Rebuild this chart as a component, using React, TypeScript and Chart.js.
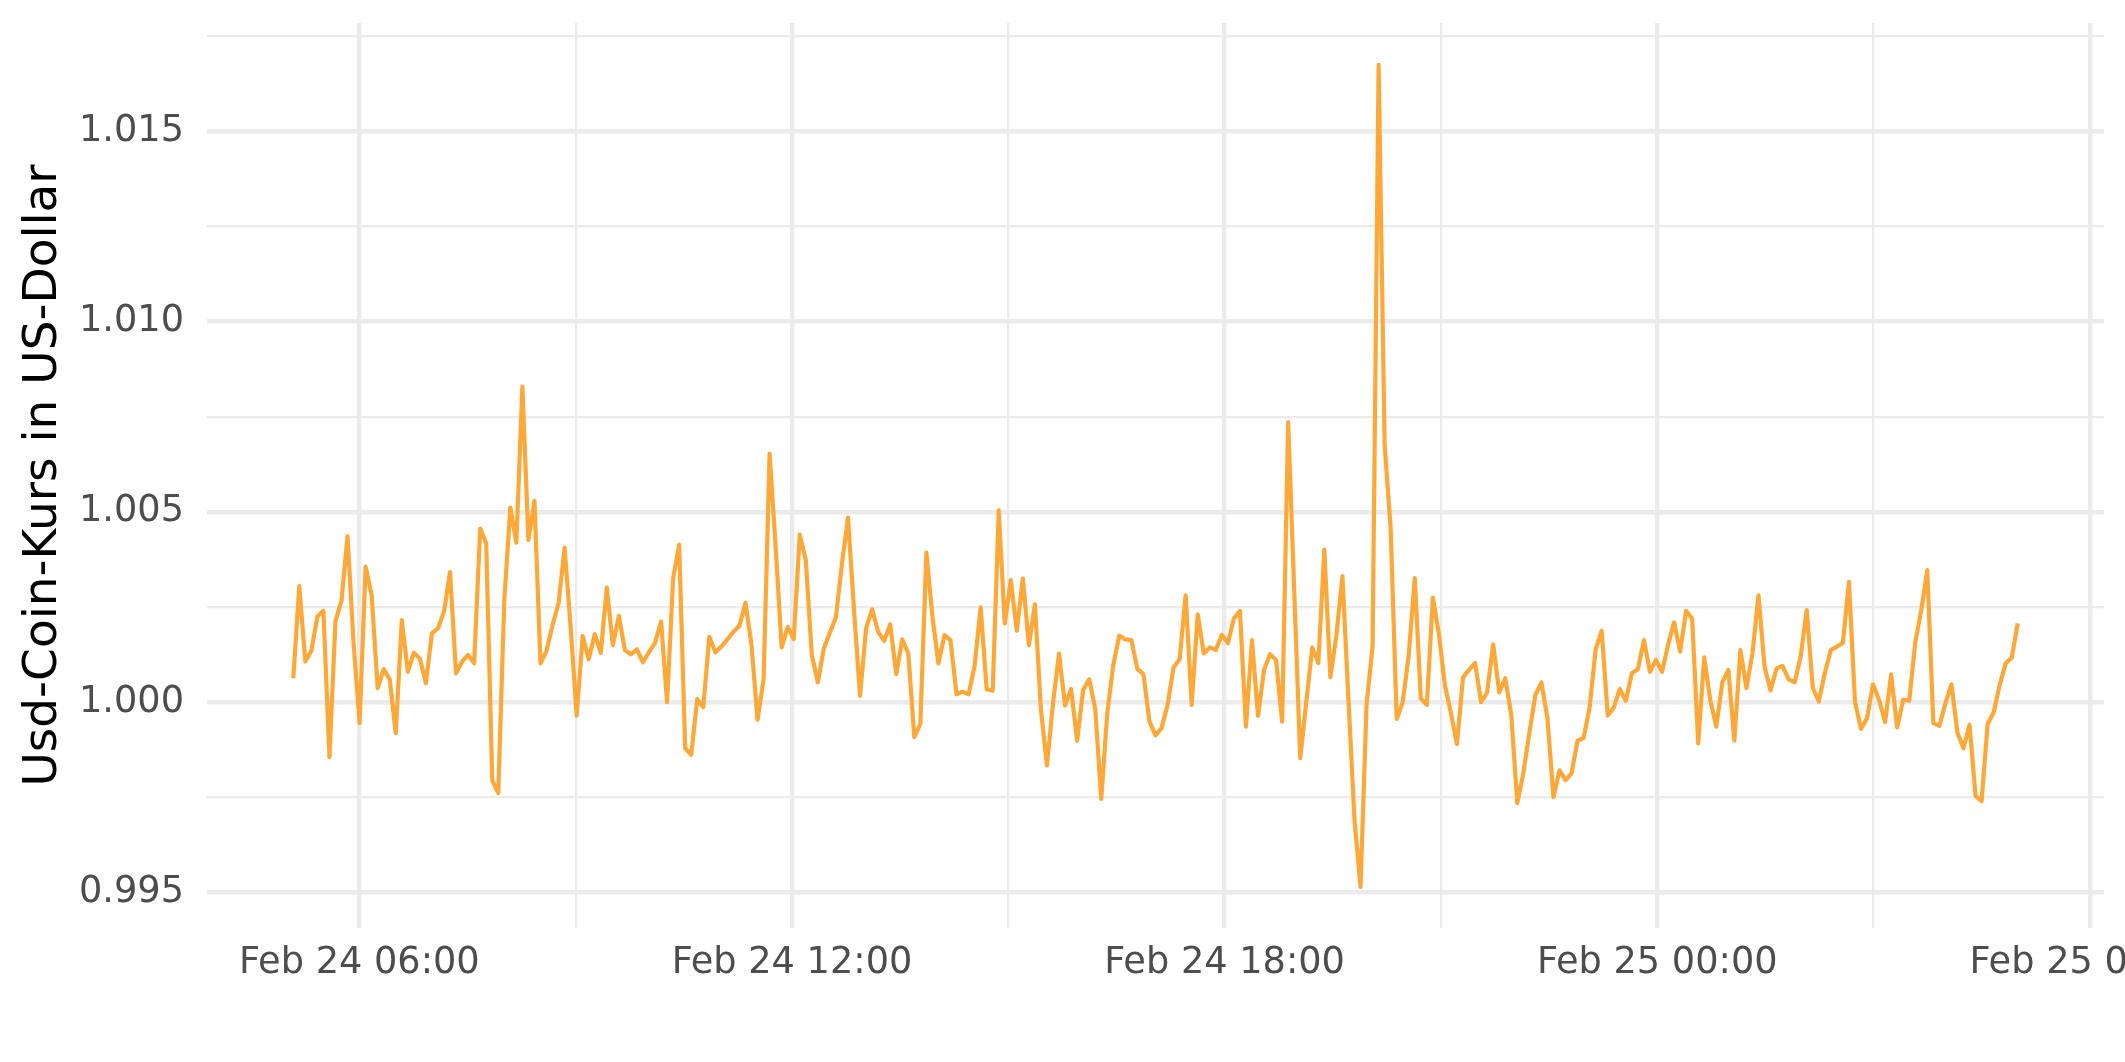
import React, { useEffect, useRef } from 'react';
import { Chart, registerables } from 'chart.js';

Chart.register(...registerables);

// Time span of the series, in hours since Feb 24 00:00
const START_HOUR = 5 + 5 / 60; // Feb 24 05:05
const END_HOUR = 29; // Feb 25 05:00

// USD Coin price in US dollars (≈5-minute samples)
const usdcValues: number[] = [
  1.00063, 1.00305, 1.00107, 1.00135, 1.00225, 1.0024, 0.99856, 1.00213, 1.00267, 1.00436,
  1.00155, 0.99945, 1.00356, 1.00281, 1.00037, 1.00087, 1.0006, 0.99919, 1.00216, 1.0008,
  1.0013, 1.00114, 1.0005, 1.00181, 1.00194, 1.00238, 1.00342, 1.00076, 1.00107, 1.00124,
  1.00102, 1.00456, 1.00417, 0.99795, 0.99761, 1.00268, 1.00511, 1.00419, 1.00829, 1.00426,
  1.00529, 1.00102, 1.00135, 1.00203, 1.0026, 1.00406, 1.00198, 0.99965, 1.00174, 1.00113,
  1.00179, 1.0013, 1.00301, 1.0015, 1.00227, 1.00137, 1.00126, 1.00139, 1.00105, 1.00132,
  1.00156, 1.00212, 1.0, 1.00325, 1.00414, 0.99879, 0.99862, 1.00008, 0.99987, 1.00172,
  1.00131, 1.00146, 1.00165, 1.00185, 1.00201, 1.00261, 1.0015, 0.99954, 1.00059, 1.00653,
  1.00408, 1.00144, 1.00198, 1.00166, 1.0044, 1.00373, 1.00124, 1.00052, 1.00142, 1.00183,
  1.00223, 1.00364, 1.00485, 1.00242, 1.00017, 1.00194, 1.00244, 1.00185, 1.00161, 1.00205,
  1.00074, 1.00165, 1.00128, 0.99908, 0.99943, 1.00393, 1.00225, 1.00102, 1.00176, 1.00163,
  1.00021, 1.00028, 1.00021, 1.00095, 1.00249, 1.00034, 1.0003, 1.00504, 1.00207, 1.00321,
  1.00188, 1.00325, 1.0015, 1.00257, 0.9998, 0.99834, 0.99997, 1.00128, 0.99991, 1.00035,
  0.99899, 1.00032, 1.0006, 0.99984, 0.99746, 0.99971, 1.00098, 1.00175, 1.00165, 1.00163,
  1.00087, 1.00074, 0.99949, 0.99913, 0.99932, 0.99993, 1.00092, 1.00113, 1.00281, 0.99993,
  1.00231, 1.00128, 1.00144, 1.00137, 1.00177, 1.00155, 1.0022, 1.0024, 0.99936, 1.00163,
  0.99964, 1.00085, 1.00126, 1.00111, 0.99949, 1.00736, 1.00295, 0.99853, 1.0, 1.00144,
  1.00103, 1.00401, 1.00066, 1.00176, 1.00331, 1.00007, 0.99691, 0.99515, 0.99993, 1.00147,
  1.01674, 1.00676, 1.00456, 0.99956, 1.0, 1.00125, 1.00326, 1.0001, 0.99993, 1.00275,
  1.00179, 1.00044, 0.99971, 0.9989, 1.00066, 1.00085, 1.00103, 1.0, 1.00026, 1.00152,
  1.00026, 1.00063, 0.99967, 0.99735, 0.99814, 0.99919, 1.00019, 1.00052, 0.99958, 0.99751,
  0.99821, 0.99795, 0.99814, 0.99899, 0.99906, 0.99987, 1.00139, 1.00188, 0.99965, 0.99986,
  1.00035, 1.00004, 1.00076, 1.00087, 1.00163, 1.0008, 1.00111, 1.0008, 1.0015, 1.0021,
  1.00133, 1.0024, 1.0022, 0.99892, 1.00118, 1.00006, 0.99936, 1.00052, 1.00085, 0.99899,
  1.00137, 1.00037, 1.00128, 1.00281, 1.00094, 1.00031, 1.00089, 1.00095, 1.0006, 1.00052,
  1.00121, 1.00242, 1.00038, 1.00002, 1.00076, 1.00137, 1.00146, 1.00156, 1.00316, 1.00002,
  0.9993, 0.99958, 1.00047, 1.00006, 0.99948, 1.00073, 0.99934, 1.00006, 1.00004, 1.00157,
  1.00242, 1.00347, 0.99945, 0.99938, 0.99997, 1.00047, 0.9992, 0.99879, 0.99941, 0.99754,
  0.9974, 0.99943, 0.99973, 1.00045, 1.00102, 1.00117, 1.00207,
];

// Axis ticks
const xTickHours = [6, 12, 18, 24, 30];
const xTickLabels = ['Feb 24 06:00', 'Feb 24 12:00', 'Feb 24 18:00', 'Feb 25 00:00', 'Feb 25 06:00'];
const yTickValues = [0.995, 1.0, 1.005, 1.01, 1.015];
const yTickLabels = ['0.995', '1.000', '1.005', '1.010', '1.015'];

const Y_TITLE = 'Usd-Coin-Kurs in US-Dollar';

const X_MIN = 3.887;
const X_MAX = 30.196;
const Y_MIN = 0.99407;
const Y_MAX = 1.01784;

const LINE_COLOR = '#FFA83A';
const GRID_COLOR = '#EBEBEB';
const TICK_COLOR = '#4D4D4D';
const FONT = 'DejaVu Sans';

export default function App() {
  const ref = useRef<HTMLCanvasElement>(null);

  useEffect(() => {
    document.body.style.margin = '0';
    const n = usdcValues.length;
    const points = usdcValues.map((v, i) => ({
      x: START_HOUR + (i * (END_HOUR - START_HOUR)) / (n - 1),
      y: v,
    }));

    const xLabel = (v: number) => {
      const idx = xTickHours.findIndex((h) => Math.abs(h - v) < 1e-6);
      return idx >= 0 ? xTickLabels[idx] : '';
    };
    const yLabel = (v: number) => {
      const idx = yTickValues.findIndex((t) => Math.abs(t - v) < 1e-7);
      return idx >= 0 ? yTickLabels[idx] : '';
    };

    const chart = new Chart(ref.current as HTMLCanvasElement, {
      type: 'line',
      data: {
        datasets: [
          {
            data: points,
            borderColor: LINE_COLOR,
            borderWidth: 4.2,
            pointRadius: 0,
            tension: 0,
            fill: false,
            borderJoinStyle: 'round',
          } as any,
        ],
      },
      options: {
        animation: false,
        responsive: false,
        devicePixelRatio: 1,
        layout: { padding: { left: 0, right: 21, top: 23, bottom: 0 } },
        plugins: { legend: { display: false }, tooltip: { enabled: false } },
        scales: {
          x: {
            type: 'linear',
            min: X_MIN,
            max: X_MAX,
            border: { display: false },
            grid: {
              color: GRID_COLOR,
              lineWidth: (c: any) => (xLabel(c.tick?.value) ? 4.4 : 2.2),
              drawTicks: false,
            },
            ticks: {
              stepSize: 3,
              autoSkip: false,
              maxRotation: 0,
              minRotation: 0,
              includeBounds: false,
              padding: 13,
              color: TICK_COLOR,
              font: { family: FONT, size: 36.7 },
              callback: (v: any) => xLabel(Number(v)),
            },
            afterFit: (s: any) => {
              s.height = 134;
              s.paddingLeft = 0;
              s.paddingRight = 0;
            },
          },
          y: {
            type: 'linear',
            min: Y_MIN,
            max: Y_MAX,
            border: { display: false },
            grid: {
              color: GRID_COLOR,
              lineWidth: (c: any) => (yLabel(c.tick?.value) ? 4.4 : 2.2),
              drawTicks: false,
            },
            ticks: {
              stepSize: 0.0025,
              autoSkip: false,
              includeBounds: false,
              padding: 23,
              color: TICK_COLOR,
              font: { family: FONT, size: 36.7 },
              callback: (v: any) => yLabel(Number(v)),
            },
            title: {
              display: true,
              text: Y_TITLE,
              color: '#000000',
              font: { family: FONT, size: 47, weight: 'normal' },
              padding: { top: 16, bottom: 0 },
            },
            afterFit: (s: any) => {
              s.width = 207;
              s.paddingTop = 0;
              s.paddingBottom = 0;
            },
          },
        },
      } as any,
    });
    return () => chart.destroy();
  }, []);

  return (
    <canvas
      ref={ref}
      width={2125}
      height={1062}
      style={{ display: 'block', position: 'absolute', left: 0, top: 0, width: 2125, height: 1062 }}
    />
  );
}
